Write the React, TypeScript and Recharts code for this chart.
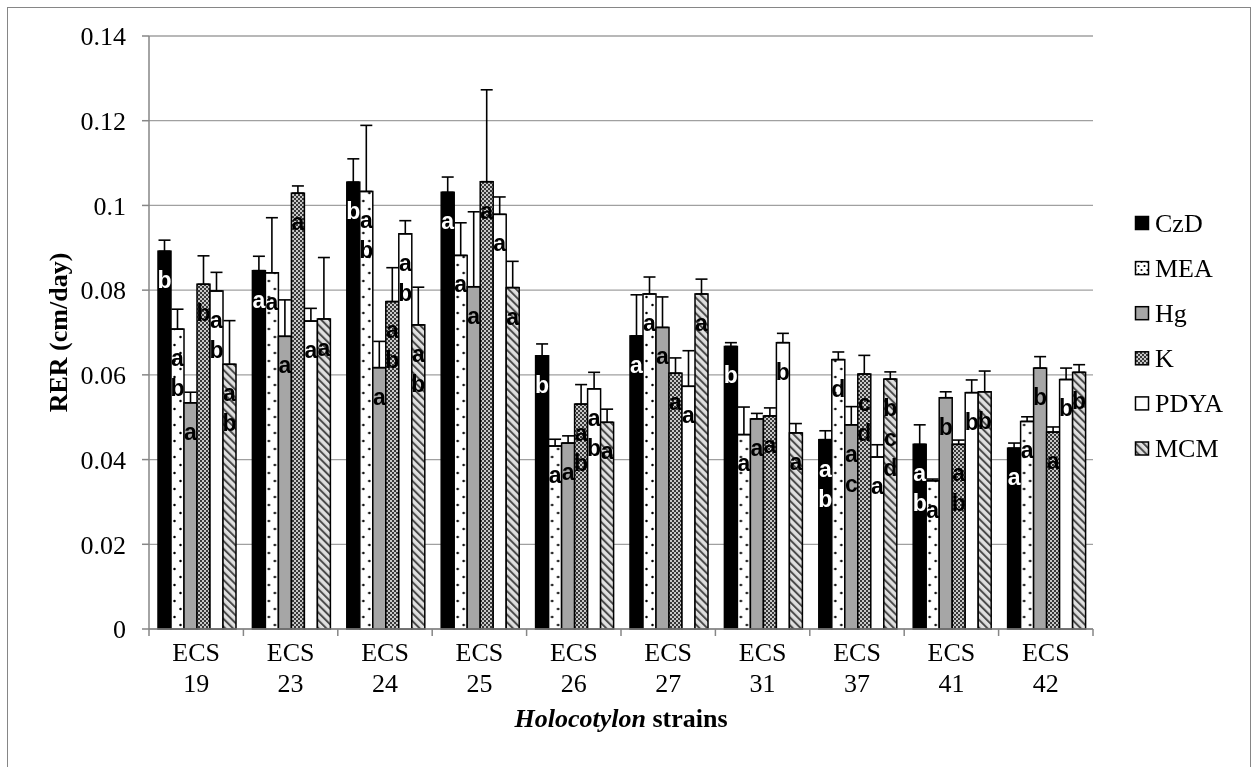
import React from 'react';
import { BarChart, Bar, XAxis, YAxis, CartesianGrid, ErrorBar, LabelList, Label } from 'recharts';

// ---------- data ----------
const categories = ['ECS 19', 'ECS 23', 'ECS 24', 'ECS 25', 'ECS 26', 'ECS 27', 'ECS 31', 'ECS 37', 'ECS 41', 'ECS 42'];
const seriesNames = ['CzD', 'MEA', 'Hg', 'K', 'PDYA', 'MCM'];

const czdValues = [0.0892, 0.0846, 0.1055, 0.1031, 0.0645, 0.0692, 0.0667, 0.0447, 0.0436, 0.0427];
const czdErrors = [0.0026, 0.0034, 0.0055, 0.0036, 0.0028, 0.0097, 0.0009, 0.0021, 0.0046, 0.0012];
const czdLetters = ['b', 'a', 'b', 'a', 'b', 'a', 'b', 'ab', 'ab', 'a'];

const meaValues = [0.0708, 0.0841, 0.1033, 0.0882, 0.0432, 0.0791, 0.0459, 0.0636, 0.0350, 0.0490];
const meaErrors = [0.0047, 0.0130, 0.0156, 0.0077, 0.0016, 0.0040, 0.0065, 0.0018, 0.0004, 0.0011];
const meaLetters = ['ab', 'a', 'ab', 'a', 'a', 'a', 'a', 'd', 'a', 'a'];

const hgValues = [0.0534, 0.0691, 0.0617, 0.0808, 0.0439, 0.0712, 0.0496, 0.0482, 0.0546, 0.0616];
const hgErrors = [0.0025, 0.0086, 0.0062, 0.0177, 0.0017, 0.0072, 0.0013, 0.0043, 0.0014, 0.0027];
const hgLetters = ['a', 'a', 'a', 'a', 'a', 'a', 'a', 'ac', 'b', 'b'];

const kValues = [0.0814, 0.1029, 0.0773, 0.1056, 0.0531, 0.0604, 0.0503, 0.0602, 0.0436, 0.0465];
const kErrors = [0.0067, 0.0017, 0.0080, 0.0217, 0.0046, 0.0036, 0.0019, 0.0044, 0.0010, 0.0012];
const kLetters = ['b', 'a', 'ab', 'a', 'ab', 'a', 'a', 'cd', 'ab', 'a'];

const pdyaValues = [0.0798, 0.0727, 0.0933, 0.0979, 0.0567, 0.0573, 0.0676, 0.0406, 0.0558, 0.0589];
const pdyaErrors = [0.0044, 0.0030, 0.0031, 0.0041, 0.0039, 0.0084, 0.0022, 0.0029, 0.0030, 0.0027];
const pdyaLetters = ['ab', 'a', 'ab', 'a', 'ab', 'a', 'b', 'a', 'b', 'b'];

const mcmValues = [0.0625, 0.0732, 0.0718, 0.0806, 0.0488, 0.0791, 0.0463, 0.0590, 0.0560, 0.0606];
const mcmErrors = [0.0103, 0.0145, 0.0089, 0.0062, 0.0031, 0.0035, 0.0022, 0.0017, 0.0049, 0.0018];
const mcmLetters = ['ab', 'a', 'ab', 'a', 'a', 'a', 'a', 'bcd', 'b', 'b'];

const yTicks = [0, 0.02, 0.04, 0.06, 0.08, 0.1, 0.12, 0.14];
const yTickLabels = ['0', '0.02', '0.04', '0.06', '0.08', '0.1', '0.12', '0.14'];

const yTitle = 'RER (cm/day)';
const xTitleItalic = 'Holocotylon';
const xTitleRest = ' strains';

// ---------- build table ----------
const valueSets = [czdValues, meaValues, hgValues, kValues, pdyaValues, mcmValues];
const errorSets = [czdErrors, meaErrors, hgErrors, kErrors, pdyaErrors, mcmErrors];
const letterSets = [czdLetters, meaLetters, hgLetters, kLetters, pdyaLetters, mcmLetters];

const data = categories.map((cat, i) => {
  const row: any = { cat };
  seriesNames.forEach((s, j) => {
    row[s] = valueSets[j][i];
    row[s + 'Err'] = [0, errorSets[j][i]];
    row[s + 'L'] = letterSets[j][i];
  });
  return row;
});

// ---------- styling ----------
const W = 1254;
const H = 767;
const MARGIN = { top: 36, right: 161, bottom: 78, left: 89 };
const YAXIS_W = 60;
const XAXIS_H = 60;
const PLOT_W = W - MARGIN.left - MARGIN.right - YAXIS_W;
const SERIF = '"Liberation Serif", "Times New Roman", serif';
const SANS = '"Liberation Sans", Arial, sans-serif';
const AXIS_GRAY = '#868686';

const seriesStyle: Record<string, { fill: string; label: string }> = {
  CzD: { fill: '#000000', label: '#ffffff' },
  MEA: { fill: 'url(#pMEA)', label: '#000000' },
  Hg: { fill: '#a6a6a6', label: '#000000' },
  K: { fill: 'url(#pK)', label: '#000000' },
  PDYA: { fill: '#ffffff', label: '#000000' },
  MCM: { fill: 'url(#pMCM)', label: '#000000' },
};

const Patterns = () => (
  <svg width={0} height={0} style={{ position: 'absolute' }}>
    <defs>
      <pattern id="pMEA" patternUnits="userSpaceOnUse" width={6} height={8}>
        <rect width={6} height={8} fill="#ffffff" />
        <circle cx={1.5} cy={2} r={1.1} fill="#000" />
        <circle cx={4.5} cy={6} r={1.1} fill="#000" />
      </pattern>
      <pattern id="pK" patternUnits="userSpaceOnUse" width={4} height={4}>
        <rect width={4} height={4} fill="#c8c8c8" />
        <rect width={2} height={2} fill="#383838" />
        <rect x={2} y={2} width={2} height={2} fill="#383838" />
      </pattern>
      <pattern id="pMCM" patternUnits="userSpaceOnUse" width={5.5} height={5.5} patternTransform="rotate(-45)">
        <rect width={5.5} height={5.5} fill="#e0e0e0" />
        <rect width={2} height={5.5} fill="#4a4a4a" />
      </pattern>
    </defs>
  </svg>
);

// bar shape; the dotted MEA fill gets a tile aligned to each bar
const makeShape = (s: string) => (props: any) => {
  const { x, y, width, height, index } = props;
  if (!(width > 0) || !(height > 0)) return <g />;
  if (s === 'MEA') {
    const id = `pMEA-${index}`;
    const w = width;
    return (
      <g>
        <defs>
          <pattern id={id} patternUnits="userSpaceOnUse" x={x} y={y + height} width={w} height={16}>
            <rect width={w} height={16} fill="#ffffff" />
            <circle cx={w * 0.27} cy={4} r={1.25} fill="#000" />
            <circle cx={w * 0.73} cy={12} r={1.25} fill="#000" />
          </pattern>
        </defs>
        <rect x={x} y={y} width={width} height={height} fill={`url(#${id})`} stroke="#000" strokeWidth={1.5} />
      </g>
    );
  }
  return <rect x={x} y={y} width={width} height={height} fill={seriesStyle[s].fill} stroke="#000" strokeWidth={1.5} />;
};

const makeLetters = (color: string) => (props: any) => {
  const { x, y, width, value } = props;
  if (!value) return null;
  const cx = Number(x) + Number(width) / 2;
  return (
    <g>
      {String(value)
        .split('')
        .map((c, i) => (
          <text
            key={i}
            x={cx}
            y={Number(y) + 30 + i * 30}
            dy="0.3em"
            textAnchor="middle"
            fill={color}
            fontFamily={SANS}
            fontWeight="bold"
            fontSize={23}
          >
            {c}
          </text>
        ))}
    </g>
  );
};

const XTick = (props: any) => {
  const { x, y, payload, index } = props;
  const half = PLOT_W / categories.length / 2;
  const [l1, l2] = String(payload.value).split(' ');
  return (
    <g>
      <line x1={x - half} x2={x - half} y1={y} y2={y + 7} stroke={AXIS_GRAY} strokeWidth={1.5} />
      {index === categories.length - 1 && (
        <line x1={x + half} x2={x + half} y1={y} y2={y + 7} stroke={AXIS_GRAY} strokeWidth={1.5} />
      )}
      <text x={x} y={y + 32} textAnchor="middle" fill="#000" fontFamily={SERIF} fontSize={26}>
        {l1}
      </text>
      <text x={x} y={y + 62.5} textAnchor="middle" fill="#000" fontFamily={SERIF} fontSize={26}>
        {l2}
      </text>
    </g>
  );
};

const YTitle = (props: any) => {
  const vb = props.viewBox || {};
  const cx = vb.x - 22;
  const cy = vb.y + vb.height / 2;
  return (
    <text
      x={cx}
      y={cy}
      transform={`rotate(-90 ${cx} ${cy})`}
      textAnchor="middle"
      fontFamily={SERIF}
      fontWeight="bold"
      fontSize={26}
      fill="#000"
    >
      {yTitle}
    </text>
  );
};

const XTitle = (props: any) => {
  const vb = props.viewBox || {};
  const cx = vb.x + vb.width / 2;
  const cy = vb.y + 98;
  return (
    <text x={cx} y={cy} textAnchor="middle" fontFamily={SERIF} fontWeight="bold" fontSize={26} fill="#000">
      <tspan fontStyle="italic">{xTitleItalic}</tspan>
      <tspan>{xTitleRest}</tspan>
    </text>
  );
};

const LegendBox = () => (
  <svg
    width={120}
    height={280}
    style={{ position: 'absolute', left: 1128, top: 196, willChange: 'transform' }}
  >
    {seriesNames.map((s, i) => {
      const cy = 27 + i * 45.1;
      return (
        <g key={s}>
          <rect x={7.5} y={cy - 6.5} width={13} height={13} fill={seriesStyle[s].fill} stroke="#000" strokeWidth={1.5} />
          <text x={27} y={cy + 8.6} fontFamily={SERIF} fontSize={26} fill="#000">
            {s}
          </text>
        </g>
      );
    })}
  </svg>
);

export default function App() {
  return (
    <div style={{ position: 'absolute', left: 0, top: 0, width: W, height: H, background: '#fff', overflow: 'hidden' }}>
      <Patterns />
      <div
        style={{
          position: 'absolute',
          left: 7,
          top: 7,
          width: W - 7 - 3.5,
          height: H + 10,
          border: `1.5px solid ${AXIS_GRAY}`,
          boxSizing: 'border-box',
        }}
      />
      <div style={{ position: 'absolute', left: 0, top: 0, willChange: 'transform' }}>
        <BarChart width={W} height={H} data={data} margin={MARGIN} barCategoryGap={9} barGap={0}>
          <CartesianGrid vertical={false} stroke="#a0a0a0" strokeWidth={1.3} />
          <XAxis
            dataKey="cat"
            height={XAXIS_H}
            tickLine={false}
            tickSize={0}
            tickMargin={0}
            axisLine={{ stroke: AXIS_GRAY, strokeWidth: 1.5 }}
            tick={<XTick />}
            interval={0}
          >
            <Label content={<XTitle />} />
          </XAxis>
          <YAxis
            width={YAXIS_W}
            domain={[0, 0.14]}
            ticks={yTicks}
            interval={0}
            tickSize={7}
            tickMargin={16}
            tickLine={{ stroke: AXIS_GRAY, strokeWidth: 1.5 }}
            axisLine={{ stroke: AXIS_GRAY, strokeWidth: 1.5 }}
            tick={{ fill: '#000', fontSize: 26, fontFamily: SERIF }}
            tickFormatter={(v: number) => yTickLabels[yTicks.indexOf(v)]}
          >
            <Label content={<YTitle />} />
          </YAxis>
          {seriesNames.map((s) => (
            <Bar
              key={s}
              dataKey={s}
              name={s}
              fill={seriesStyle[s].fill}
              stroke="#000"
              strokeWidth={1.5}
              shape={makeShape(s)}
              isAnimationActive={false}
            >
              <ErrorBar dataKey={s + 'Err'} width={6} stroke="#000" strokeWidth={1.6} direction="y" />
              <LabelList dataKey={s + 'L'} content={makeLetters(seriesStyle[s].label)} />
            </Bar>
          ))}
        </BarChart>
      </div>
      <LegendBox />
    </div>
  );
}
